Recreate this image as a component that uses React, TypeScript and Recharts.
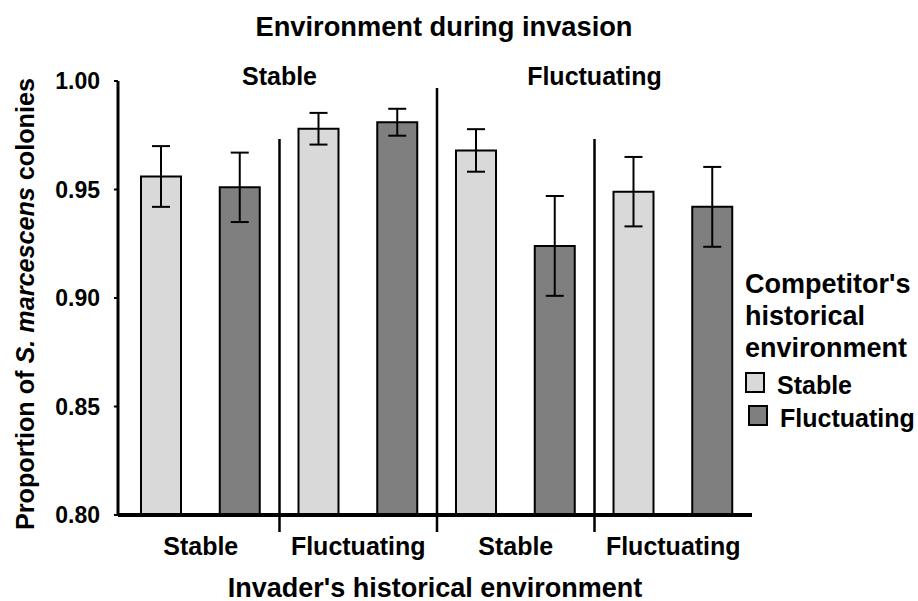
import React from "react";
import {
  BarChart,
  Bar,
  Cell,
  ErrorBar,
  XAxis,
  YAxis,
  Legend,
  Label,
  ReferenceLine,
} from "recharts";

// invader's historical environment (bottom groups)
const invaderEnv = ["Stable", "Fluctuating", "Stable", "Fluctuating"];
// environment during invasion (top panels)
const invasionEnv = ["Stable", "Fluctuating"];
// competitor's historical environment, one per bar
const competitorEnv = [
  "Stable", "Fluctuating", "Stable", "Fluctuating",
  "Stable", "Fluctuating", "Stable", "Fluctuating",
];
const means = [0.956, 0.951, 0.978, 0.981, 0.968, 0.924, 0.949, 0.942];
const errors = [0.014, 0.016, 0.0073, 0.0062, 0.0098, 0.023, 0.016, 0.0184];
const yTicks = [0.8, 0.85, 0.9, 0.95, 1.0];

// panel dividers: x in bar slots, top in y units
const dividers = [
  { x: 2, top: 0.9733 },
  { x: 4, top: 0.9968 },
  { x: 6, top: 0.9733 },
];
const dividerBottom = 0.7922;

const COLORS: Record<string, string> = {
  Stable: "#d9d9d9",
  Fluctuating: "#7f7f7f",
};
const FONT = "'Liberation Sans', Arial, sans-serif";

const data = means.map((m, i) => ({
  id: `b${i}`,
  mean: m,
  err: errors[i],
  competitor: competitorEnv[i],
  pos: i + 0.5,
}));

const invTicks = invaderEnv.map((_, i) => i * 2 + 1);
const envTicks = invasionEnv.map((_, i) => i * 4 + 2);

function LegendBox() {
  return (
    <div style={{ fontFamily: FONT, fontWeight: 700, color: "#000" }}>
      <div style={{ fontSize: 27, lineHeight: "32px" }}>
        Competitor's
        <br />
        historical
        <br />
        environment
      </div>
      <div style={{ marginTop: 5 }}>
        {["Stable", "Fluctuating"].map((k, i) => (
          <div
            key={k}
            style={{
              display: "flex",
              alignItems: "center",
              height: 33,
              fontSize: 25,
              lineHeight: "33px",
            }}
          >
            <span
              style={{
                display: "inline-block",
                width: 16,
                height: 17,
                border: "2px solid #000",
                background: COLORS[k],
                marginLeft: i === 0 ? 0 : 3,
                marginRight: 12,
                position: "relative",
                top: -3,
              }}
            />
            {k}
          </div>
        ))}
      </div>
    </div>
  );
}

export default function App() {
  return (
    <div style={{ position: "absolute", left: 0, top: 0, background: "#fff" }}>
      <BarChart
        width={918}
        height={601}
        data={data}
        margin={{ top: 51, right: 166, bottom: 26, left: 0 }}
      >
        <XAxis
          xAxisId="bar"
          dataKey="id"
          hide
          height={0}
          padding={{ left: 4, right: 0 }}
        />
        <XAxis
          xAxisId="inv"
          dataKey="pos"
          type="number"
          domain={[0, 8]}
          allowDataOverflow
          ticks={invTicks}
          tickFormatter={(v: number) => invaderEnv[(v - 1) / 2]}
          interval={0}
          height={60}
          padding={{ left: 4, right: 0 }}
          axisLine={{ stroke: "#000", strokeWidth: 4 }}
          tickLine={false}
          tickSize={0}
          tickMargin={22}
          tick={{ fill: "#000", fontSize: 25, fontWeight: 700, fontFamily: FONT }}
        >
          <Label
            content={() => (
              <text
                x={435}
                y={597}
                textAnchor="middle"
                fontSize={27}
                fontWeight={700}
                fontFamily={FONT}
                fill="#000"
              >
                Invader's historical environment
              </text>
            )}
          />
        </XAxis>
        <XAxis
          xAxisId="env"
          orientation="top"
          dataKey="pos"
          type="number"
          domain={[0, 8]}
          allowDataOverflow
          ticks={envTicks}
          tickFormatter={(v: number) => invasionEnv[(v - 2) / 4]}
          interval={0}
          height={30}
          padding={{ left: 4, right: 0 }}
          axisLine={false}
          tickLine={false}
          tickSize={0}
          tickMargin={-4}
          tick={{ fill: "#000", fontSize: 25, fontWeight: 700, fontFamily: FONT }}
        >
          <Label
            content={() => (
              <text
                x={444}
                y={36}
                textAnchor="middle"
                fontSize={28}
                fontWeight={700}
                fontFamily={FONT}
                fill="#000"
                textLength={377}
                lengthAdjust="spacingAndGlyphs"
              >
                Environment during invasion
              </text>
            )}
          />
        </XAxis>
        <YAxis
          domain={[0.8, 1]}
          ticks={yTicks}
          allowDataOverflow
          width={118}
          tickFormatter={(v: number) => v.toFixed(2)}
          axisLine={{ stroke: "#000", strokeWidth: 3 }}
          tickLine={{ stroke: "#000", strokeWidth: 2 }}
          tickSize={4}
          tickMargin={14}
          tick={{ fill: "#000", fontSize: 23, fontWeight: 700, fontFamily: FONT }}
        >
          <Label
            content={() => (
              <text
                x={34}
                y={304}
                transform="rotate(-90, 34, 304)"
                textAnchor="middle"
                fontSize={26}
                fontWeight={700}
                fontFamily={FONT}
                fill="#000"
                textLength={452}
                lengthAdjust="spacingAndGlyphs"
              >
                Proportion of <tspan fontStyle="italic">S. marcescens</tspan> colonies
              </text>
            )}
          />
        </YAxis>
        <Bar
          xAxisId="bar"
          dataKey="mean"
          barSize={40}
          stroke="#000"
          strokeWidth={2}
          isAnimationActive={false}
        >
          {data.map((d) => (
            <Cell key={d.id} fill={COLORS[d.competitor]} />
          ))}
          <ErrorBar
            dataKey="err"
            width={9}
            stroke="#000"
            strokeWidth={2}
            isAnimationActive={false}
          />
        </Bar>
        {dividers.map((d) => (
          <ReferenceLine
            key={d.x}
            xAxisId="inv"
            ifOverflow="visible"
            segment={[
              { x: d.x, y: d.top },
              { x: d.x, y: dividerBottom },
            ]}
            stroke="#000"
            strokeWidth={2.5}
          />
        ))}
        <Legend
          layout="horizontal"
          verticalAlign="middle"
          align="center"
          wrapperStyle={{ position: "absolute", left: 745, top: 268, width: 173 }}
          content={() => <LegendBox />}
        />
      </BarChart>
    </div>
  );
}
